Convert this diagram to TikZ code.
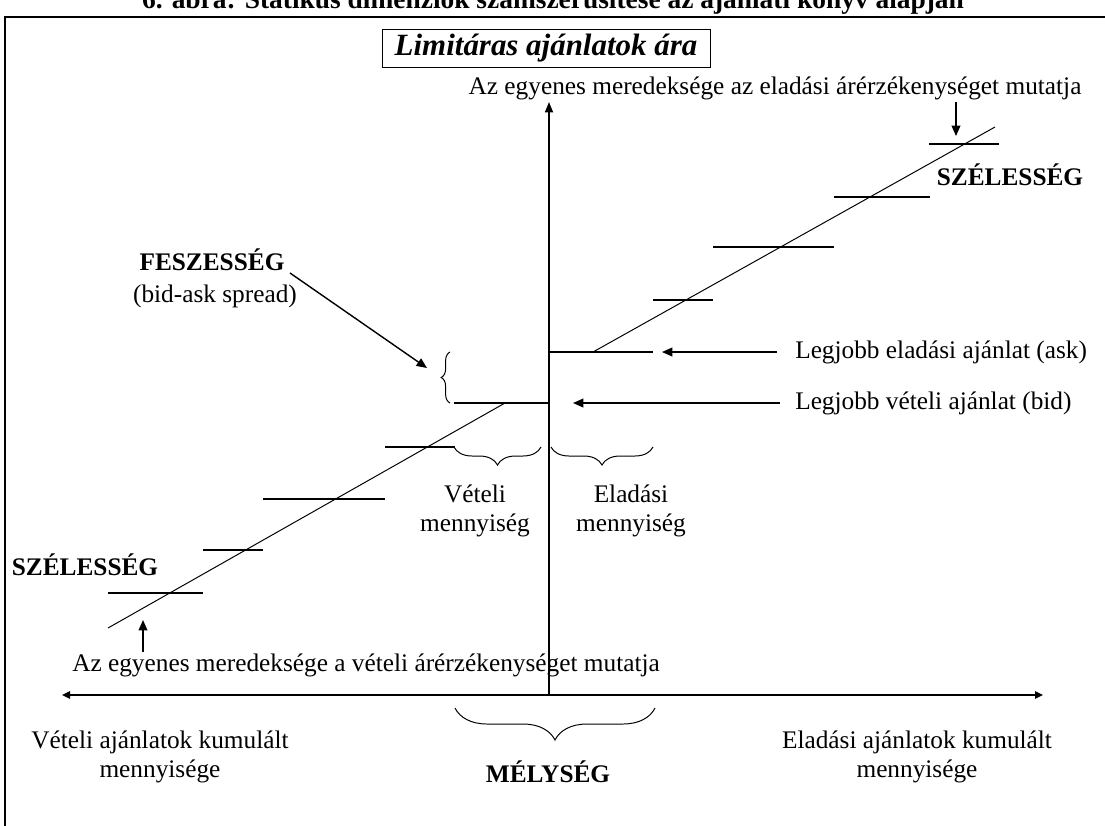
\documentclass[tikz,border=0pt]{standalone}
\usepackage{fontspec}
\setmainfont{Liberation Serif}
\usetikzlibrary{arrows.meta, decorations.pathreplacing, positioning}
\tikzstyle{textNode}=[inner sep=0pt, align=center, font=\fontsize{18}{21}\selectfont]
\tikzstyle{boldNode}=[inner sep=0pt, align=center, font=\fontsize{18}{21}\selectfont\bfseries]
\tikzstyle{titleNode}=[draw, line width=0.6pt, minimum width=8.2cm, minimum height=0.95cm, font=\fontsize{22}{26}\selectfont\bfseries\itshape]
\tikzstyle{stepLine}=[line width=0.9pt]
\tikzstyle{slopeLine}=[line width=0.7pt]
\tikzstyle{pointerArrow}=[line width=1pt, -{Triangle[length=2.6mm,width=2.2mm]}]
\tikzstyle{vAxis}=[line width=1.2pt, -{Triangle[length=2.6mm,width=2mm]}]
\tikzstyle{hAxis}=[line width=1.6pt, {Triangle[length=2mm,width=1.8mm]}-{Triangle[length=2mm,width=1.8mm]}]
\tikzstyle{braceLine}=[line width=0.7pt, decorate]

\begin{document}
\begin{tikzpicture}[x=0.025cm, y=-0.025cm]
    \useasboundingbox (0,0) rectangle (1105,825);

    % Frame and caption
    \draw[line width=2pt] (5,830) -- (5,17) -- (1110,17);
    \node[boldNode, anchor=base, font=\fontsize{19.5}{23}\selectfont\bfseries] (figCaption) at (553,8) {6. ábra: Statikus dimenziók számszerűsítése az ajánlati könyv alapján};
    \node[titleNode] (priceTitle) at (546,48) {Limitáras ajánlatok ára};

    % Axes
    \coordinate (origin) at (549,695);
    \coordinate (axisTop) at (549,102);
    \coordinate (axisLeft) at (62,695);
    \coordinate (axisRight) at (1043,695);
    \draw[vAxis] (origin) -- (axisTop);
    \draw[hAxis] (axisLeft) -- (axisRight);

    % Sell side steps
    \draw[stepLine] (549,352) -- (653,352);
    \draw[stepLine] (653,300) -- (713,300);
    \draw[stepLine] (713,247) -- (834,247);
    \draw[stepLine] (834,197) -- (930,197);
    \draw[stepLine] (929,144) -- (999,144);
    \draw[slopeLine] (593,352) -- (995,127);

    % Buy side steps
    \draw[stepLine] (454,403) -- (549,403);
    \draw[stepLine] (385,447) -- (455,447);
    \draw[stepLine] (263,499) -- (385,499);
    \draw[stepLine] (203,550) -- (263,550);
    \draw[stepLine] (108,593) -- (203,593);
    \draw[slopeLine] (505,403) -- (108,628);

    % Braces
    \draw[braceLine, decoration={brace, amplitude=0.22cm}] (450,403) -- (450,352);
    \draw[braceLine, decoration={brace, amplitude=0.45cm}] (541,447) -- (454,447);
    \draw[braceLine, decoration={brace, amplitude=0.45cm}] (653,447) -- (551,447);
    \draw[braceLine, decoration={brace, amplitude=0.8cm}] (655,708) -- (455,708);

    % Labels
    \node[textNode] (sellSlopeLabel) at (775,88) {Az egyenes meredeksége az eladási árérzékenységet mutatja};
    \node[boldNode] (sellWidthLabel) at (1010,175) {SZÉLESSÉG};
    \node[boldNode] (feszLabel) at (212,260) {FESZESSÉG};
    \node[textNode] (spreadLabel) at (215,296) {(bid-ask spread)};
    \node[textNode, anchor=west] (askLabel) at (795,352) {Legjobb eladási ajánlat (ask)};
    \node[textNode, anchor=west] (bidLabel) at (795,403) {Legjobb vételi ajánlat (bid)};
    \node[textNode] (buyQtyLabel) at (475,511) {Vételi\\mennyiség};
    \node[textNode] (sellQtyLabel) at (631,511) {Eladási\\mennyiség};
    \node[boldNode] (buyWidthLabel) at (85,565) {SZÉLESSÉG};
    \node[textNode] (buySlopeLabel) at (366,665) {Az egyenes meredeksége a vételi árérzékenységet mutatja};
    \node[textNode] (buyCumLabel) at (160,757) {Vételi ajánlatok kumulált\\mennyisége};
    \node[boldNode] (depthLabel) at (548,772) {MÉLYSÉG};
    \node[textNode] (sellCumLabel) at (917,757) {Eladási ajánlatok kumulált\\mennyisége};

    % Pointer arrows
    \coordinate (sellSlopeTail) at (956,102);
    \coordinate (sellSlopeTip) at (956,136);
    \coordinate (feszTail) at (290,273);
    \coordinate (feszTip) at (427,368);
    \coordinate (askTail) at (777,352);
    \coordinate (askTip) at (662,352);
    \coordinate (bidTail) at (780,403);
    \coordinate (bidTip) at (573,403);
    \coordinate (buySlopeTail) at (143,652);
    \coordinate (buySlopeTip) at (143,620);
    \draw[pointerArrow] (sellSlopeTail) -- (sellSlopeTip);
    \draw[pointerArrow] (feszTail) -- (feszTip);
    \draw[pointerArrow] (askTail) -- (askTip);
    \draw[pointerArrow] (bidTail) -- (bidTip);
    \draw[pointerArrow] (buySlopeTail) -- (buySlopeTip);
\end{tikzpicture}
\end{document}
